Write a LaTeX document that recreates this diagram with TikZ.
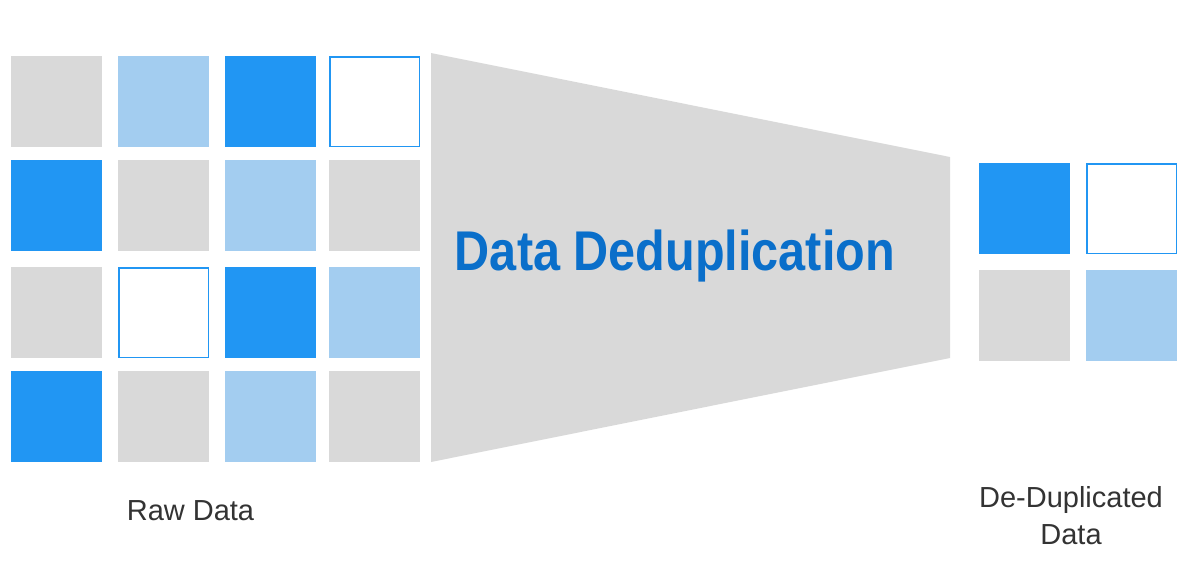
\documentclass[tikz,border=0pt]{standalone}
\usepackage{fontspec}
\usepackage{graphicx}
\setmainfont{Liberation Sans}
\definecolor{blueA}{HTML}{2196F3}
\definecolor{blueL}{HTML}{A3CDF0}
\definecolor{grayc}{HTML}{D9D9D9}
\definecolor{titlec}{HTML}{0A6FCA}
\definecolor{labelc}{HTML}{333333}
\begin{document}
\begin{tikzpicture}[x=1pt,y=-1pt,
  cell/.style={rectangle, inner sep=0pt, outer sep=0pt, minimum size=91pt, draw=none},
  cgray/.style={cell, fill=grayc},
  clight/.style={cell, fill=blueL},
  cblue/.style={cell, fill=blueA},
  cwhite/.style={cell, fill=white, draw=blueA, line width=1.5pt, minimum size=89.5pt},
  label/.style={font=\fontsize{29}{37}\selectfont, text=labelc, inner sep=0pt, anchor=base, align=center},
  title/.style={font=\fontsize{56}{60}\selectfont\bfseries, text=titlec, inner sep=0pt, anchor=base}]
\useasboundingbox (0,0) rectangle (1200,560);
% funnel
\fill[grayc] (431,53) -- (950,157) -- (950,358) -- (431,462) -- cycle;
% left grid
\node[cgray]  (a11) at (56.5,101.5) {};
\node[clight] (a12) at (163.5,101.5) {};
\node[cblue]  (a13) at (270.5,101.5) {};
\node[cwhite] (a14) at (374.5,101.5) {};
\node[cblue]  (a21) at (56.5,205.5) {};
\node[cgray]  (a22) at (163.5,205.5) {};
\node[clight] (a23) at (270.5,205.5) {};
\node[cgray]  (a24) at (374.5,205.5) {};
\node[cgray]  (a31) at (56.5,312.5) {};
\node[cwhite] (a32) at (163.5,312.5) {};
\node[cblue]  (a33) at (270.5,312.5) {};
\node[clight] (a34) at (374.5,312.5) {};
\node[cblue]  (a41) at (56.5,416.5) {};
\node[cgray]  (a42) at (163.5,416.5) {};
\node[clight] (a43) at (270.5,416.5) {};
\node[cgray]  (a44) at (374.5,416.5) {};
% right grid
\node[cblue]  (b11) at (1024.5,208.5) {};
\node[cwhite] (b12) at (1131.5,208.5) {};
\node[cgray]  (b21) at (1024.5,315.5) {};
\node[clight] (b22) at (1131.5,315.5) {};
% texts
\node[title] (ttl) at (675,270) {\scalebox{0.868}[1]{Data Deduplication}};
\node[label] (raw) at (190.5,520) {Raw Data};
\node[label] (dd1) at (1071,507) {De-Duplicated};
\node[label] (dd2) at (1071,544) {Data};
\end{tikzpicture}
\end{document}
